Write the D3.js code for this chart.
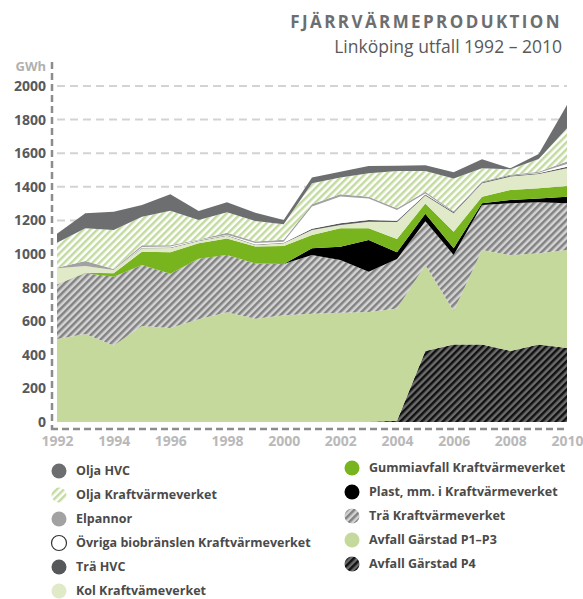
<!DOCTYPE html>
<html>
<head>
<meta charset="utf-8">
<script src="https://cdn.jsdelivr.net/npm/d3@7"></script>
<style>
  body { margin: 0; background: #fff; }
  svg { display: block; }
</style>
</head>
<body>
<svg id="chart" width="583" height="599"></svg>
<script>
// years on the x axis
var years = [1992, 1993, 1994, 1995, 1996, 1997, 1998, 1999, 2000, 2001,
             2002, 2003, 2004, 2005, 2006, 2007, 2008, 2009, 2010];

// GWh per source, stacked bottom -> top
var avfallP4    = [0, 0, 0, 0, 0, 0, 0, 0, 0, 0, 0, 2, 8, 423, 462, 462, 423, 462, 440];
var avfallP1P3  = [494, 524, 456, 571, 560, 611, 653, 615, 635, 645, 651, 653, 667, 511, 199, 562, 571, 542, 584];
var traKVV      = [326, 361, 409, 363, 323, 361, 341, 329, 305, 349, 313, 240, 295, 261, 333, 268, 308, 304, 278];
var plast       = [0, 0, 0, 0, 0, 0, 0, 0, 0, 40, 79, 188, 40, 45, 40, 10, 19, 23, 39];
var gummi       = [0, 3, 20, 80, 127, 92, 99, 100, 108, 79, 110, 70, 80, 60, 99, 39, 60, 60, 64];
var kol         = [95, 40, 20, 20, 26, 13, 16, 10, 16, 30, 20, 39, 100, 48, 109, 80, 80, 85, 105];
var traHVC      = [0, 0, 0, 3, 3, 3, 3, 3, 3, 8, 10, 10, 8, 6, 6, 5, 5, 5, 10];
var ovriga      = [0, 0, 0, 5, 5, 3, 3, 8, 6, 131, 160, 129, 64, 6, 0, 0, 0, 3, 15];
var elpannor    = [3, 30, 6, 10, 8, 4, 12, 10, 12, 14, 12, 10, 10, 10, 6, 6, 6, 6, 15];
var oljaKVV     = [149, 195, 232, 170, 206, 115, 121, 121, 92, 125, 101, 139, 222, 124, 196, 78, 33, 75, 198];
var oljaHVC     = [53, 89, 109, 70, 97, 54, 60, 50, 25, 35, 34, 44, 32, 34, 36, 54, 5, 30, 139];

var yTicks = [0, 200, 400, 600, 800, 1000, 1200, 1400, 1600, 1800, 2000];
var xTicks = [1992, 1994, 1996, 1998, 2000, 2002, 2004, 2006, 2008, 2010];

// series: key, label, data, fill
var series = [
  {key:'p4',     label:'Avfall Gärstad P4',                  data:avfallP4,   fill:'url(#hatchBlack)'},
  {key:'p1p3',   label:'Avfall Gärstad P1–P3',               data:avfallP1P3, fill:'#c4d99b'},
  {key:'traKVV', label:'Trä Kraftvärmeverket',               data:traKVV,     fill:'url(#hatchGray)'},
  {key:'plast',  label:'Plast, mm. i Kraftvärmeverket',      data:plast,      fill:'#000000'},
  {key:'gummi',  label:'Gummiavfall Kraftvärmeverket',       data:gummi,      fill:'#78b41e'},
  {key:'kol',    label:'Kol Kraftvämeverket',                data:kol,        fill:'#e0eac8'},
  {key:'traHVC', label:'Trä HVC',                            data:traHVC,     fill:'#57585a'},
  {key:'ovriga', label:'Övriga biobränslen Kraftvärmeverket', data:ovriga,    fill:'#ffffff'},
  {key:'elp',    label:'Elpannor',                           data:elpannor,   fill:'#a2a2a2'},
  {key:'oljaKVV',label:'Olja Kraftvärmeverket',              data:oljaKVV,    fill:'url(#hatchGreen)'},
  {key:'oljaHVC',label:'Olja HVC',                           data:oljaHVC,    fill:'#6d6e70'}
];

var table = years.map(function(y, i){
  var row = {year: y};
  series.forEach(function(s){ row[s.key] = s.data[i]; });
  return row;
});

var svg = d3.select('#chart');

// hatch patterns
var defs = svg.append('defs');
function hatch(id, bg, fg){
  var p = defs.append('pattern')
    .attr('id', id)
    .attr('patternUnits', 'userSpaceOnUse')
    .attr('width', 5).attr('height', 5)
    .attr('patternTransform', 'rotate(45)');
  p.append('rect').attr('width', 5).attr('height', 5).attr('fill', bg);
  p.append('rect').attr('width', 2.5).attr('height', 5).attr('fill', fg);
}
hatch('hatchGray', '#d4d4d4', '#828282');
hatch('hatchBlack', '#6c6c6c', '#111111');
hatch('hatchGreen', '#ffffff', '#c3dba0');

var x = d3.scaleLinear().domain([1992, 2010]).range([57, 567]);
var y = d3.scaleLinear().domain([0, 2000]).range([422, 86]);

// grid lines
svg.append('g')
  .selectAll('line')
  .data(yTicks.filter(function(d){ return d > 0; }))
  .enter().append('line')
  .attr('x1', 57).attr('x2', 567)
  .attr('y1', function(d){ return y(d); })
  .attr('y2', function(d){ return y(d); })
  .attr('stroke', '#d3d3d3')
  .attr('stroke-width', 2)
  .attr('stroke-dasharray', '8,5');

// stacked areas
var stack = d3.stack().keys(series.map(function(s){ return s.key; }));
var layers = stack(table);

var area = d3.area()
  .x(function(d){ return x(d.data.year); })
  .y0(function(d){ return y(d[0]); })
  .y1(function(d){ return y(d[1]); });

svg.append('g')
  .selectAll('path')
  .data(layers)
  .enter().append('path')
  .attr('d', area)
  .attr('fill', function(d, i){ return series[i].fill; });

// axes
var yAxis = svg.append('g')
  .attr('transform', 'translate(52,0)')
  .call(d3.axisLeft(y).tickValues(yTicks).tickSize(0).tickPadding(6).tickFormat(d3.format('d')));
yAxis.select('.domain').remove();
yAxis.selectAll('text')
  .style('font-family', 'Open Sans')
  .style('font-weight', 'bold')
  .style('font-size', '14px')
  .attr('fill', '#58595b');

var xAxis = svg.append('g')
  .attr('transform', 'translate(0,429)')
  .call(d3.axisBottom(x).tickValues(xTicks).tickSize(0).tickPadding(7).tickFormat(d3.format('d')));
xAxis.select('.domain').remove();
xAxis.selectAll('text')
  .style('font-family', 'Open Sans')
  .style('font-weight', 'bold')
  .style('font-size', '14px')
  .attr('fill', '#b9b9b9');

// dashed axis lines
svg.append('line')
  .attr('x1', 52).attr('x2', 52).attr('y1', 62).attr('y2', 430)
  .attr('stroke', '#8c8c8c').attr('stroke-width', 2.5)
  .attr('stroke-dasharray', '7,4');
svg.append('line')
  .attr('x1', 51).attr('x2', 568).attr('y1', 429).attr('y2', 429)
  .attr('stroke', '#8c8c8c').attr('stroke-width', 2.5)
  .attr('stroke-dasharray', '7,4');

svg.append('text')
  .attr('x', 46).attr('y', 71)
  .attr('text-anchor', 'end')
  .style('font-family', 'Open Sans')
  .style('font-weight', 'bold')
  .style('font-size', '13px')
  .attr('fill', '#b0b0b0')
  .text('GWh');

// titles
svg.append('text')
  .attr('x', 562).attr('y', 28)
  .attr('text-anchor', 'end')
  .style('font-family', 'Open Sans')
  .style('font-weight', 'bold')
  .style('font-size', '17px')
  .style('letter-spacing', '2.4px')
  .attr('fill', '#6d6e70')
  .text('FJÄRRVÄRMEPRODUKTION');

svg.append('text')
  .attr('x', 562).attr('y', 53)
  .attr('text-anchor', 'end')
  .style('font-family', 'Open Sans')
  .style('font-size', '17.5px')
  .attr('fill', '#58595b')
  .text('Linköping utfall 1992 – 2010');

// legend
var legendCol1 = ['oljaHVC', 'oljaKVV', 'elp', 'ovriga', 'traHVC', 'kol'];
var legendCol2 = ['gummi', 'plast', 'traKVV', 'p1p3', 'p4'];

function legend(keys, cx, tx, y0){
  var g = svg.append('g');
  var items = g.selectAll('g')
    .data(keys.map(function(k){ return series.filter(function(s){ return s.key === k; })[0]; }))
    .enter().append('g')
    .attr('transform', function(d, i){ return 'translate(0,' + (y0 + i*24) + ')'; });
  items.append('circle')
    .attr('cx', cx).attr('cy', 0).attr('r', 7.5)
    .attr('fill', function(d){ return d.fill; })
    .attr('stroke', function(d){ return d.key === 'ovriga' ? '#333' : 'none'; })
    .attr('stroke-width', 1.2);
  items.append('text')
    .attr('x', tx).attr('y', 0).attr('dy', '0.35em')
    .style('font-family', 'Open Sans')
    .style('font-weight', 'bold')
    .style('font-size', '12.5px')
    .attr('fill', '#4a4a4a')
    .text(function(d){ return d.label; });
}
legend(legendCol1, 59, 76, 471);
legend(legendCol2, 352, 369, 468);
</script>
</body>
</html>
